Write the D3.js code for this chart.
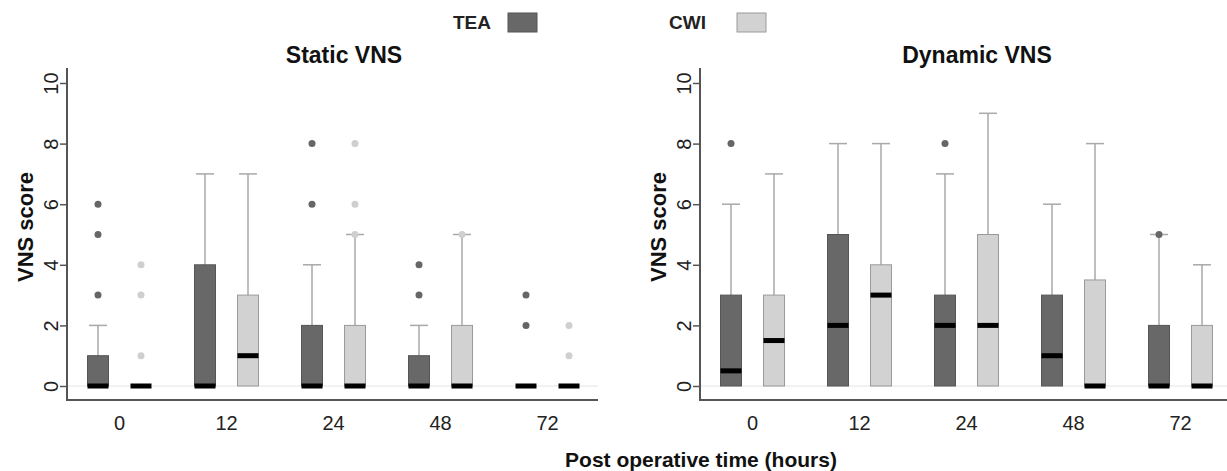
<!DOCTYPE html>
<html>
<head>
<meta charset="utf-8">
<script src="https://cdn.jsdelivr.net/npm/d3@7"></script>
<style>
  body { margin: 0; background: #fff; }
  svg { display: block; font-family: "Liberation Sans", Arial, sans-serif; }
</style>
</head>
<body>
<div id="chart"></div>
<script>
// time points and groups
const times = ["0", "12", "24", "48", "72"];
const groups = ["TEA", "CWI"];
const yTicks = [0, 2, 4, 6, 8, 10];

// each row: q1, median, q3, upper whisker
const staticTEA = [[0, 0, 1, 2], [0, 0, 4, 7], [0, 0, 2, 4], [0, 0, 1, 2], [0, 0, 0, 0]];
const staticTEAOut = [[3, 5, 6], [], [6, 8], [3, 4], [2, 3]];
const staticCWI = [[0, 0, 0, 0], [0, 1, 3, 7], [0, 0, 2, 5], [0, 0, 2, 5], [0, 0, 0, 0]];
const staticCWIOut = [[1, 3, 4], [], [5, 6, 8], [5], [1, 2]];

const dynamicTEA = [[0, 0.5, 3, 6], [0, 2, 5, 8], [0, 2, 3, 7], [0, 1, 3, 6], [0, 0, 2, 5]];
const dynamicTEAOut = [[8], [], [8], [], [5]];
const dynamicCWI = [[0, 1.5, 3, 7], [0, 3, 4, 8], [0, 2, 5, 9], [0, 0, 3.5, 8], [0, 0, 2, 4]];
const dynamicCWIOut = [[], [], [], [], []];

(function () {
  const W = 1227, H = 471;
  const fill = { TEA: "#686868", CWI: "#d2d2d2" };
  const stroke = { TEA: "#555", CWI: "#9a9a9a" };
  const dot = { TEA: "#666", CWI: "#cfcfcf" };

  const svg = d3.select("#chart").append("svg")
    .attr("width", W)
    .attr("height", H);

  const y = d3.scaleLinear().domain([0, 10]).range([386, 83]);
  // offset of each group's box from the time point centre
  const sub = d3.scalePoint().domain(groups).range([-21.5, 21.5]);

  // legend
  const legendX = { TEA: [453, 508], CWI: [669, 737] };
  groups.forEach(function (g) {
    svg.append("text")
      .attr("x", legendX[g][0]).attr("y", 29)
      .attr("font-size", 19).attr("font-weight", "bold")
      .attr("fill", "#222")
      .text(g);
    svg.append("rect")
      .attr("x", legendX[g][1]).attr("y", 13)
      .attr("width", 29).attr("height", 19)
      .attr("fill", fill[g])
      .attr("stroke", stroke[g]).attr("stroke-width", 1);
  });

  function Panel(left, right, title, tea, teaOut, cwi, cwiOut) {
    const g = svg.append("g");

    const x = d3.scaleBand().domain(times).range([left - 1, left + 534]);

    // zero reference line
    g.append("line")
      .attr("x1", left).attr("x2", right)
      .attr("y1", y(0)).attr("y2", y(0))
      .attr("stroke", "#e4e4e4").attr("stroke-width", 1);

    const yAxis = g.append("g")
      .attr("transform", "translate(" + left + ",0)")
      .call(d3.axisLeft(y).tickValues(yTicks).tickSize(7).tickSizeOuter(0));
    yAxis.select(".domain").remove();
    yAxis.selectAll("line").attr("stroke", "#555").attr("stroke-width", 1.5);
    yAxis.selectAll("text")
      .attr("x", null).attr("dy", null)
      .attr("text-anchor", "middle")
      .attr("transform", "translate(-9,0) rotate(-90)")
      .attr("font-size", 20).attr("fill", "#222")
      .attr("font-family", "Liberation Sans, Arial, sans-serif");

    const xAxis = g.append("g")
      .attr("transform", "translate(0,400)")
      .call(d3.axisBottom(x).tickSize(0));
    xAxis.select(".domain").remove();
    xAxis.selectAll("text")
      .attr("y", 30).attr("dy", null)
      .attr("font-size", 20).attr("fill", "#222")
      .attr("font-family", "Liberation Sans, Arial, sans-serif");

    // axis lines
    g.append("line")
      .attr("x1", left).attr("x2", left).attr("y1", 68).attr("y2", 401)
      .attr("stroke", "#555").attr("stroke-width", 2);
    g.append("line")
      .attr("x1", left).attr("x2", right).attr("y1", 400).attr("y2", 400)
      .attr("stroke", "#555").attr("stroke-width", 2);

    g.append("text")
      .attr("x", left + 277).attr("y", 63)
      .attr("text-anchor", "middle")
      .attr("font-size", 23).attr("font-weight", "bold")
      .attr("fill", "#111")
      .text(title);

    g.append("text")
      .attr("transform", "translate(" + (left - 34) + ",227) rotate(-90)")
      .attr("text-anchor", "middle")
      .attr("font-size", 22).attr("font-weight", "bold")
      .attr("fill", "#111")
      .text("VNS score");

    const series = { TEA: [tea, teaOut], CWI: [cwi, cwiOut] };
    const bw = 21, cap = 18;

    groups.forEach(function (grp) {
      const stats = series[grp][0], outs = series[grp][1];
      times.forEach(function (t, i) {
        const cx = x(t) + x.bandwidth() / 2 + sub(grp);
        const s = stats[i];
        const q1 = s[0], med = s[1], q3 = s[2], hi = s[3];

        if (hi > q3) {
          g.append("line")
            .attr("x1", cx).attr("x2", cx)
            .attr("y1", y(q3)).attr("y2", y(hi))
            .attr("stroke", "#a8a8a8").attr("stroke-width", 1.5);
          g.append("line")
            .attr("x1", cx - cap / 2).attr("x2", cx + cap / 2)
            .attr("y1", y(hi)).attr("y2", y(hi))
            .attr("stroke", "#a8a8a8").attr("stroke-width", 1.5);
        }
        if (q3 > q1) {
          g.append("rect")
            .attr("x", cx - bw / 2).attr("y", y(q3))
            .attr("width", bw).attr("height", y(q1) - y(q3))
            .attr("fill", fill[grp])
            .attr("stroke", stroke[grp]).attr("stroke-width", 1);
        }
        g.append("rect")
          .attr("x", cx - bw / 2).attr("y", y(med) - 2.5)
          .attr("width", bw).attr("height", 5)
          .attr("fill", "#000");

        outs[i].forEach(function (v) {
          g.append("circle")
            .attr("cx", cx).attr("cy", y(v)).attr("r", 3.5)
            .attr("fill", dot[grp]);
        });
      });
    });
  }

  new Panel(67, 598, "Static VNS", staticTEA, staticTEAOut, staticCWI, staticCWIOut);
  new Panel(700, 1227, "Dynamic VNS", dynamicTEA, dynamicTEAOut, dynamicCWI, dynamicCWIOut);

  svg.append("text")
    .attr("x", 701).attr("y", 467)
    .attr("text-anchor", "middle")
    .attr("font-size", 21).attr("font-weight", "bold")
    .attr("fill", "#111")
    .text("Post operative time (hours)");
})();
</script>
</body>
</html>
